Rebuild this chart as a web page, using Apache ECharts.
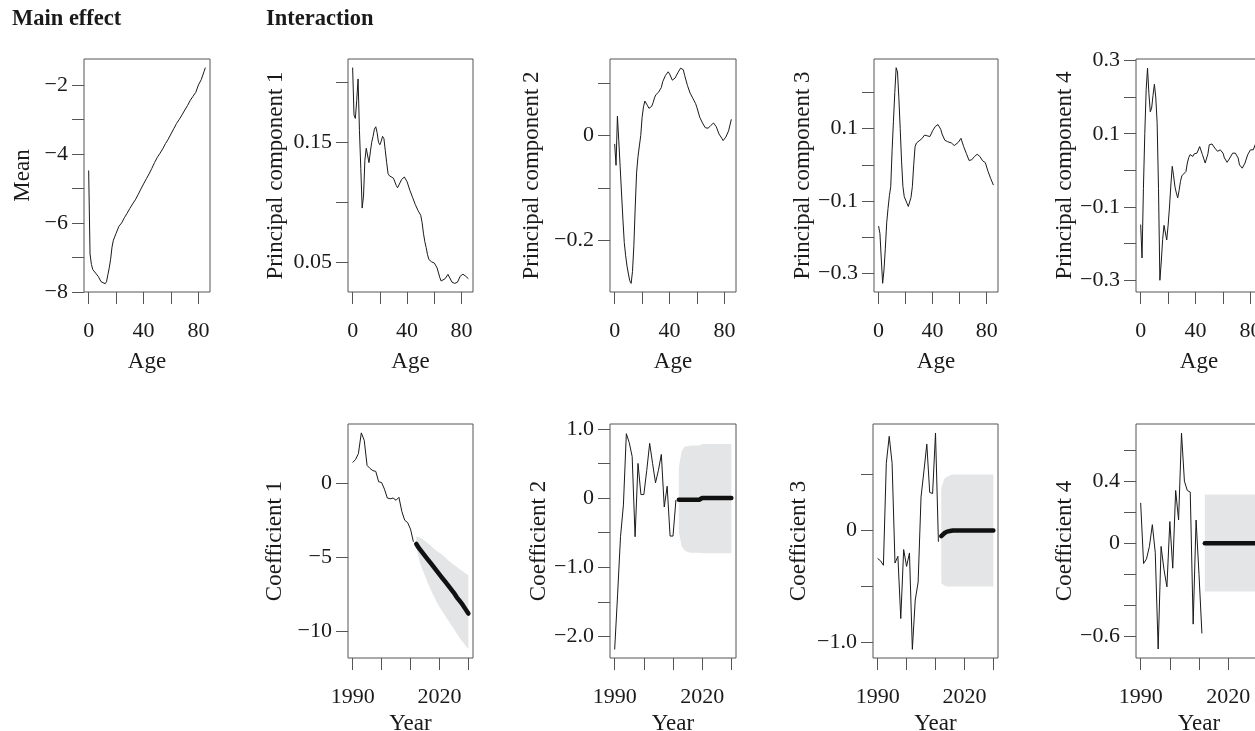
<!DOCTYPE html>
<html>
<head>
<meta charset="utf-8">
<script src="https://cdn.jsdelivr.net/npm/echarts@6/dist/echarts.min.js"></script>
<style>
html,body{margin:0;padding:0;background:#fff;}
#chart{width:1255px;height:731px;}
</style>
</head>
<body>
<div id="chart"></div>
<script>
// ---- main effect ----
const ageMean = [0,1,2,3,5,7,9,10,12,13,14,15,16,17,18,20,22,24,26,28,30,32,34,36,38,40,42,44,46,48,50,52,54,56,58,60,62,64,66,68,70,72,74,76,78,80,82,84,85];
const mean = [-4.48,-6.9,-7.2,-7.35,-7.45,-7.55,-7.7,-7.75,-7.76,-7.7,-7.5,-7.3,-7.05,-6.7,-6.5,-6.3,-6.1,-6.0,-5.85,-5.72,-5.58,-5.45,-5.33,-5.18,-5.02,-4.87,-4.72,-4.58,-4.42,-4.25,-4.1,-3.98,-3.85,-3.7,-3.57,-3.42,-3.27,-3.12,-3.0,-2.87,-2.73,-2.6,-2.45,-2.33,-2.22,-2.0,-1.85,-1.62,-1.5];

// ---- principal components ----
const agePC1 = [0,1,2,3,4,5,6,7,8,9,10,11,12,13,14,15,16,17,18,19,20,21,22,23,24,25,26,27,28,30,32,33,34,36,38,40,42,44,46,48,50,51,52,53,54,55,56,58,60,62,64,65,66,68,70,71,73,75,77,79,81,83,85];
const pc1 = [0.2125,0.173,0.170,0.185,0.203,0.160,0.128,0.095,0.105,0.135,0.145,0.145,0.133,0.142,0.150,0.155,0.161,0.163,0.158,0.150,0.148,0.151,0.155,0.153,0.143,0.133,0.124,0.122,0.122,0.120,0.114,0.112,0.113,0.119,0.121,0.117,0.110,0.104,0.098,0.093,0.089,0.083,0.074,0.067,0.062,0.056,0.052,0.050,0.049,0.045,0.037,0.034,0.0325,0.036,0.0395,0.038,0.033,0.032,0.033,0.038,0.0397,0.038,0.036];

const agePC2 = [0,1,2,3,4,5,6,7,8,9,10,11,12,13,14,15,16,17,18,19,20,21,22,23,24,25,26,27,28,29,30,32,34,35,37,39,40,42,44,46,48,50,51,53,55,57,59,60,62,64,66,68,70,72,74,76,78,79,81,83,85];
const pc2 = [-0.016,-0.057,0.037,-0.01,-0.06,-0.11,-0.16,-0.205,-0.23,-0.25,-0.265,-0.278,-0.283,-0.26,-0.21,-0.135,-0.07,-0.04,-0.02,0.0,0.035,0.055,0.066,0.065,0.057,0.052,0.052,0.056,0.063,0.072,0.078,0.083,0.092,0.103,0.115,0.122,0.118,0.106,0.110,0.120,0.129,0.126,0.115,0.096,0.081,0.071,0.061,0.053,0.035,0.024,0.015,0.014,0.019,0.024,0.017,0.003,-0.005,-0.0096,-0.003,0.009,0.031];

const agePC3 = [0,1,2,3,4,5,6,7,8,9,10,11,12,13,14,15,16,17,18,19,21,22,23,24,25,26,27,28,30,32,34,36,38,40,42,44,46,47,49,51,54,56,59,61,63,65,67,69,71,73,75,77,79,81,83,85];
const pc3 = [-0.169,-0.19,-0.26,-0.327,-0.29,-0.23,-0.16,-0.12,-0.085,-0.06,0.04,0.12,0.2,0.268,0.256,0.185,0.1,0.01,-0.06,-0.088,-0.106,-0.115,-0.11,-0.09,-0.06,0.0,0.05,0.06,0.066,0.072,0.082,0.080,0.078,0.094,0.106,0.111,0.098,0.085,0.068,0.064,0.060,0.053,0.062,0.073,0.05,0.031,0.012,0.014,0.023,0.029,0.023,0.011,0.006,-0.018,-0.038,-0.056];

const agePC4 = [0,1,2,3,4,5,6,7,8,9,10,11,12,13,14,15,16,17,18,19,20,21,22,23,24,25,26,27,28,29,30,31,33,34,35,36,37,38,39,41,43,45,47,49,50,52,54,56,58,60,61,63,65,67,69,71,72,74,76,78,80,82,84,85];
const pc4 = [-0.148,-0.239,-0.05,0.10,0.22,0.279,0.21,0.16,0.17,0.205,0.235,0.2,0.13,-0.05,-0.3,-0.25,-0.189,-0.15,-0.153,-0.19,-0.15,-0.1,-0.04,0.011,-0.015,-0.045,-0.062,-0.075,-0.055,-0.03,-0.015,-0.012,-0.003,0.02,0.035,0.043,0.04,0.038,0.045,0.047,0.065,0.043,0.02,0.045,0.07,0.072,0.061,0.052,0.056,0.047,0.034,0.022,0.034,0.047,0.047,0.034,0.015,0.006,0.02,0.043,0.056,0.056,0.075,0.08];

// ---- coefficients ----
const yearsHist = [1990,1991,1992,1993,1994,1995,1996,1997,1998,1999,2000,2001,2002,2003,2004,2005,2006,2007,2008,2009,2010,2011];
const yearsFc = [2012,2013,2014,2015,2016,2017,2018,2019,2020,2021,2022,2023,2024,2025,2026,2027,2028,2029,2030];

const coef1 = [1.4,1.6,2.0,3.4,2.9,1.2,1.0,0.85,0.8,0.1,0.05,-0.4,-1.0,-1.05,-1.0,-1.15,-0.95,-1.9,-2.5,-2.65,-3.1,-3.95];
const coef1Fc = [-4.1,-4.4,-4.65,-4.9,-5.15,-5.4,-5.65,-5.9,-6.15,-6.4,-6.65,-6.9,-7.15,-7.4,-7.7,-7.95,-8.2,-8.5,-8.8];
const coef1Lo = [-4.3,-5.2,-5.75,-6.25,-6.75,-7.2,-7.6,-8.0,-8.35,-8.65,-8.95,-9.25,-9.55,-9.85,-10.15,-10.45,-10.7,-10.95,-11.2];
const coef1Hi = [-3.6,-3.65,-3.75,-3.9,-4.05,-4.2,-4.4,-4.55,-4.7,-4.85,-5.0,-5.2,-5.35,-5.5,-5.65,-5.8,-5.95,-6.1,-6.2];

const coef2 = [-2.19,-1.4,-0.56,-0.1,0.93,0.8,0.6,-0.56,0.5,0.05,0.05,0.4,0.79,0.5,0.22,0.4,0.63,-0.13,0.17,-0.55,-0.55,-0.03];
const coef2Fc = [-0.025,-0.025,-0.025,-0.025,-0.025,-0.025,-0.025,-0.025,0,0,0,0,0,0,0,0,0,0,0];
const coef2Lo = [-0.5,-0.7,-0.76,-0.78,-0.79,-0.79,-0.79,-0.79,-0.8,-0.8,-0.8,-0.8,-0.8,-0.8,-0.8,-0.8,-0.8,-0.8,-0.8];
const coef2Hi = [0.45,0.68,0.74,0.75,0.76,0.76,0.76,0.76,0.78,0.78,0.78,0.78,0.78,0.78,0.78,0.78,0.78,0.78,0.78];

const coef3 = [-0.25,-0.27,-0.31,0.6,0.84,0.6,-0.29,-0.23,-0.785,-0.17,-0.32,-0.2,-1.06,-0.62,-0.46,0.3,0.53,0.77,0.34,0.33,0.87,-0.1];
const coef3Fc = [-0.05,-0.025,-0.01,-0.005,0,0,0,0,0,0,0,0,0,0,0,0,0,0,0];
const coef3Lo = [-0.47,-0.49,-0.5,-0.5,-0.5,-0.5,-0.5,-0.5,-0.5,-0.5,-0.5,-0.5,-0.5,-0.5,-0.5,-0.5,-0.5,-0.5,-0.5];
const coef3Hi = [0.38,0.46,0.48,0.49,0.5,0.5,0.5,0.5,0.5,0.5,0.5,0.5,0.5,0.5,0.5,0.5,0.5,0.5,0.5];

const coef4 = [0.26,-0.13,-0.1,-0.02,0.12,-0.06,-0.68,-0.02,-0.17,-0.28,0.14,-0.16,0.34,0.15,0.71,0.4,0.34,0.33,-0.52,0.15,-0.2,-0.58];
const coef4Fc = [0,0,0,0,0,0,0,0,0,0,0,0,0,0,0,0,0,0,0];
const coef4Lo = [-0.31,-0.31,-0.31,-0.31,-0.31,-0.31,-0.31,-0.31,-0.31,-0.31,-0.31,-0.31,-0.31,-0.31,-0.31,-0.31,-0.31,-0.31,-0.31];
const coef4Hi = [0.315,0.315,0.315,0.315,0.315,0.315,0.315,0.315,0.315,0.315,0.315,0.315,0.315,0.315,0.315,0.315,0.315,0.315,0.315];

// ---- ticks ----
const ageTicks = [0,20,40,60,80];
const ageLabels = [0,40,80];
const yearTicks = [1990,2000,2010,2020,2030];
const yearLabels = [1990,2020];

const FONT = 'Liberation Serif';
const INK = '#1a1a1a';
const AXIS = '#555';

const fmt = (v, d) => v === 0 ? '0' : v.toFixed(d).replace('-', '\u2212');
const pairs = (xs, ys) => xs.map((x, i) => [x, ys[i]]);

const grids = [], xAxes = [], yAxes = [], series = [];

// forecast interval drawn as one polygon through the axis scales
function bandSeries(i, lo, hi) {
  const rows = yearsFc.map((y, k) => [y, lo[k], hi[k]]);
  return {
    type: 'custom', xAxisIndex: i, yAxisIndex: i, data: rows, silent: true,
    encode: {x: 0, y: [1, 2]},
    renderItem: (params, api) => {
      if (params.dataIndex !== 0) return null;
      const upper = rows.map(r => api.coord([r[0], r[2]]));
      const lower = rows.map(r => api.coord([r[0], r[1]])).reverse();
      return {type: 'polygon', shape: {points: upper.concat(lower)},
        style: {fill: '#e4e5e6', stroke: null}};
    }
  };
}

function addPanel(p) {
  const i = grids.length;
  const top = p.row === 0;
  grids.push({
    left: p.left, top: top ? 59 : 424, width: p.width, height: top ? 233 : 234,
    show: true, borderColor: AXIS, borderWidth: 1, backgroundColor: 'transparent',
    outerBoundsMode: 'none'
  });
  xAxes.push({
    gridIndex: i, type: 'value',
    min: top ? -3.4 : 1988.4, max: top ? 88.4 : 2031.6,
    name: top ? 'Age' : 'Year', nameLocation: 'middle', nameGap: top ? 58 : 54,
    nameTextStyle: {fontFamily: FONT, fontSize: 23, color: INK},
    axisLine: {show: false, onZero: false},
    axisTick: {show: true, length: 12, customValues: top ? ageTicks : yearTicks, lineStyle: {color: AXIS}},
    axisLabel: {customValues: top ? ageLabels : yearLabels, margin: 28, fontFamily: FONT, fontSize: 22, color: INK,
      formatter: v => String(v)},
    splitLine: {show: false}
  });
  yAxes.push({
    gridIndex: i, type: 'value', min: p.yMin, max: p.yMax,
    name: p.yName, nameLocation: 'middle', nameRotate: 90, nameGap: p.nameGap,
    nameTextStyle: {fontFamily: FONT, fontSize: 23, color: INK},
    axisLine: {show: false, onZero: false},
    axisTick: {show: true, length: 12, customValues: p.yTicks, lineStyle: {color: AXIS}},
    axisLabel: {customValues: p.yLabels, margin: 16, fontFamily: FONT, fontSize: 22, color: INK,
      formatter: v => fmt(v, p.dec)},
    splitLine: {show: false}
  });
  if (p.lo) series.push(bandSeries(i, p.lo, p.hi));
  series.push({type: 'line', xAxisIndex: i, yAxisIndex: i, data: pairs(p.x, p.y),
    symbol: 'none', lineStyle: {width: 1, color: INK}, silent: true});
  if (p.fc) {
    series.push({type: 'line', xAxisIndex: i, yAxisIndex: i, data: pairs(yearsFc, p.fc),
      symbol: 'none', lineStyle: {width: 4.5, color: '#111', cap: 'round', join: 'round'}, silent: true});
  }
}

addPanel({row: 0, left: 84, width: 126, yMin: -8.0, yMax: -1.25, yName: 'Mean', nameGap: 50,
  yTicks: [-8,-7,-6,-5,-4,-3,-2], yLabels: [-8,-6,-4,-2], dec: 0, x: ageMean, y: mean});
addPanel({row: 0, left: 348, width: 125, yMin: 0.0248, yMax: 0.2197, yName: 'Principal component 1', nameGap: 61,
  yTicks: [0.05,0.10,0.15,0.20], yLabels: [0.05,0.15], dec: 2, x: agePC1, y: pc1});
addPanel({row: 0, left: 610, width: 126, yMin: -0.2995, yMax: 0.1465, yName: 'Principal component 2', nameGap: 67,
  yTicks: [-0.2,-0.1,0,0.1], yLabels: [-0.2,0], dec: 1, x: agePC2, y: pc2});
addPanel({row: 0, left: 874, width: 124, yMin: -0.351, yMax: 0.292, yName: 'Principal component 3', nameGap: 60,
  yTicks: [-0.3,-0.2,-0.1,0,0.1,0.2], yLabels: [-0.3,-0.1,0.1], dec: 1, x: agePC3, y: pc3});
addPanel({row: 0, left: 1136, width: 126, yMin: -0.332, yMax: 0.304, yName: 'Principal component 4', nameGap: 59,
  yTicks: [-0.3,-0.2,-0.1,0,0.1,0.2,0.3], yLabels: [-0.3,-0.1,0.1,0.3], dec: 1, x: agePC4, y: pc4});

addPanel({row: 1, left: 348, width: 125, yMin: -11.8, yMax: 4.0, yName: 'Coefficient 1', nameGap: 62,
  yTicks: [-10,-5,0], yLabels: [-10,-5,0], dec: 0, x: yearsHist, y: coef1, fc: coef1Fc, lo: coef1Lo, hi: coef1Hi});
addPanel({row: 1, left: 610, width: 126, yMin: -2.313, yMax: 1.07, yName: 'Coefficient 2', nameGap: 58,
  yTicks: [-2,-1.5,-1,-0.5,0,0.5,1], yLabels: [-2,-1,0,1], dec: 1, x: yearsHist, y: coef2, fc: coef2Fc, lo: coef2Lo, hi: coef2Hi});
addPanel({row: 1, left: 873, width: 125, yMin: -1.137, yMax: 0.95, yName: 'Coefficient 3', nameGap: 63,
  yTicks: [-1,-0.5,0,0.5], yLabels: [-1,0], dec: 1, x: yearsHist, y: coef3, fc: coef3Fc, lo: coef3Lo, hi: coef3Hi});
addPanel({row: 1, left: 1136, width: 126, yMin: -0.738, yMax: 0.768, yName: 'Coefficient 4', nameGap: 59,
  yTicks: [-0.6,-0.4,-0.2,0,0.2,0.4,0.6], yLabels: [-0.6,0,0.4], dec: 1, x: yearsHist, y: coef4, fc: coef4Fc, lo: coef4Lo, hi: coef4Hi});

const chart = echarts.init(document.getElementById('chart'), null, {renderer: 'canvas'});
chart.setOption({
  animation: false,
  backgroundColor: '#fff',
  title: [
    {text: 'Main effect', left: 12, top: 8, padding: 0,
      textStyle: {fontFamily: FONT, fontSize: 22.5, fontWeight: 'bold', color: INK}},
    {text: 'Interaction', left: 266, top: 8, padding: 0,
      textStyle: {fontFamily: FONT, fontSize: 22.5, fontWeight: 'bold', color: INK}}
  ],
  grid: grids,
  xAxis: xAxes,
  yAxis: yAxes,
  series: series
});
</script>
</body>
</html>
